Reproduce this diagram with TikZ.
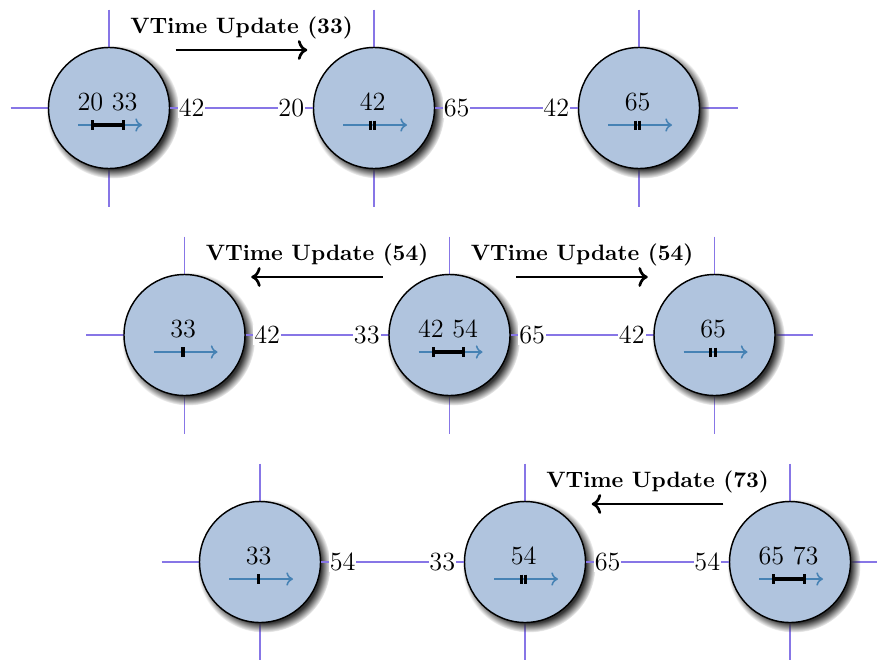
\documentclass[tikz,border=0pt]{standalone}
\usetikzlibrary{shadows,calc,arrows.meta}

\definecolor{nodefill}{RGB}{176,196,222}
\definecolor{gridline}{RGB}{135,118,230}
\definecolor{axisblue}{RGB}{70,130,180}

\tikzset{
  proc/.style={circle, draw=black, line width=0.65pt, fill=nodefill,
    minimum size=54.45pt, inner sep=0pt,
    circular drop shadow={fill=black!80, shadow xshift=1.6pt, shadow yshift=-1.6pt, shadow scale=1.1}},
  cross/.style={draw=gridline, line width=0.55pt},
  link/.style={draw=gridline, line width=0.55pt},
  vlabel/.style={fill=white, inner sep=0.4pt, font=\fontsize{11.8}{13}\selectfont},
  vnum/.style={inner sep=0pt, anchor=base, font=\fontsize{11.8}{13}\selectfont},
  axisline/.style={draw=axisblue, line width=0.7pt, -{To[length=3pt, width=6pt]}},
  spanbar/.style={draw=black, line width=1.5pt},
  tickbar/.style={draw=black, line width=1.45pt},
  msg/.style={draw=black, line width=1.2pt, ->},
  msglabel/.style={inner sep=0pt, anchor=base, font=\bfseries}
}

% time axis inside a process circle
\newcommand\timeaxis[1]{\draw[axisline] ($(#1)+(-31,17)$) -- ($(#1)+(33,17)$);}
% an interval [a,b] on the axis
\newcommand\spanmark[1]{%
  \draw[spanbar] ($(#1)+(-16.2,17)$) -- ($(#1)+(14.2,17)$);
  \draw[tickbar] ($(#1)+(-16.2,12)$) -- ($(#1)+(-16.2,22)$);
  \draw[tickbar] ($(#1)+(14.2,12)$) -- ($(#1)+(14.2,22)$);}
% a single instant, drawn as a double tick
\newcommand\pairmark[1]{%
  \draw[tickbar] ($(#1)+(-3.8,12.5)$) -- ($(#1)+(-3.8,21.5)$);
  \draw[tickbar] ($(#1)+(0.7,12.5)$) -- ($(#1)+(0.7,21.5)$);}
% a single instant, drawn as one tick
\newcommand\onemark[1]{%
  \draw[tickbar] ($(#1)+(-1.5,12)$) -- ($(#1)+(-1.5,22)$);}

\begin{document}
\begin{tikzpicture}[x=0.45pt, y=-0.45pt]
\useasboundingbox (0,0) rectangle (877,659);
\clip (0,0) rectangle (877,659);

% process centres
\coordinate (c11) at (109,108);
\coordinate (c12) at (374,108);
\coordinate (c13) at (639,108);
\coordinate (c21) at (184.5,335);
\coordinate (c22) at (449.5,335);
\coordinate (c23) at (714.5,335);
\coordinate (c31) at (260,562);
\coordinate (c32) at (525,562);
\coordinate (c33) at (790,562);

% crosshairs behind every process
\foreach \c in {c11,c12,c13,c21,c22,c23,c31,c32,c33}{
  \draw[cross] ($(\c)+(-98.5,0)$) -- ($(\c)+(98.5,0)$);
  \draw[cross] ($(\c)+(0,-98.5)$) -- ($(\c)+(0,98.5)$);
}

% processes
\foreach \c/\n in {c11/n11,c12/n12,c13/n13,c21/n21,c22/n22,c23/n23,c31/n31,c32/n32,c33/n33}{
  \node[proc] (\n) at (\c) {};
}

% clock values
\node[vnum] (t11) at ($(c11)+(-1.4,2)$) {20 33};
\node[vnum] (t12) at ($(c12)+(-1.4,2)$) {42};
\node[vnum] (t13) at ($(c13)+(-1.4,2)$) {65};
\node[vnum] (t21) at ($(c21)+(-1.4,2)$) {33};
\node[vnum] (t22) at ($(c22)+(-1.4,2)$) {42 54};
\node[vnum] (t23) at ($(c23)+(-1.4,2)$) {65};
\node[vnum] (t31) at ($(c31)+(-1.4,2)$) {33};
\node[vnum] (t32) at ($(c32)+(-1.4,2)$) {54};
\node[vnum] (t33) at ($(c33)+(-1.4,2)$) {65 73};

% time axes and marks
\foreach \c in {c11,c12,c13,c21,c22,c23,c31,c32,c33}{\timeaxis{\c}}
\spanmark{c11} \pairmark{c12} \pairmark{c13}
\onemark{c21}  \spanmark{c22} \pairmark{c23}
\onemark{c31}  \pairmark{c32} \spanmark{c33}

% links with neighbour clock values
\path[link] (n11) -- (n12)
  node[vlabel, pos=0, anchor=west, xshift=3.2pt] {42}
  node[vlabel, pos=1, anchor=east, xshift=-3.2pt] {20};
\path[link] (n12) -- (n13)
  node[vlabel, pos=0, anchor=west, xshift=3.2pt] {65}
  node[vlabel, pos=1, anchor=east, xshift=-3.2pt] {42};
\path[link] (n21) -- (n22)
  node[vlabel, pos=0, anchor=west, xshift=3.2pt] {42}
  node[vlabel, pos=1, anchor=east, xshift=-3.2pt] {33};
\path[link] (n22) -- (n23)
  node[vlabel, pos=0, anchor=west, xshift=3.2pt] {65}
  node[vlabel, pos=1, anchor=east, xshift=-3.2pt] {42};
\path[link] (n31) -- (n32)
  node[vlabel, pos=0, anchor=west, xshift=3.2pt] {54}
  node[vlabel, pos=1, anchor=east, xshift=-3.2pt] {33};
\path[link] (n32) -- (n33)
  node[vlabel, pos=0, anchor=west, xshift=3.2pt] {65}
  node[vlabel, pos=1, anchor=east, xshift=-3.2pt] {54};

% update messages
\coordinate (m1a) at ($(n11.east)+(5.5,-58)$);
\coordinate (m1b) at ($(n12.west)+(-5.5,-58)$);
\draw[msg] (m1a) -- (m1b);
\node[msglabel] (u1) at ($(m1a)!0.5!(m1b)+(0,-16.7)$) {VTime Update (33)};

\coordinate (m2a) at ($(n21.east)+(5.5,-58)$);
\coordinate (m2b) at ($(n22.west)+(-5.5,-58)$);
\draw[msg] (m2b) -- (m2a);
\node[msglabel] (u2) at ($(m2a)!0.5!(m2b)+(0,-16.7)$) {VTime Update (54)};

\coordinate (m3a) at ($(n22.east)+(5.5,-58)$);
\coordinate (m3b) at ($(n23.west)+(-5.5,-58)$);
\draw[msg] (m3a) -- (m3b);
\node[msglabel] (u3) at ($(m3a)!0.5!(m3b)+(0,-16.7)$) {VTime Update (54)};

\coordinate (m4a) at ($(n32.east)+(5.5,-58)$);
\coordinate (m4b) at ($(n33.west)+(-5.5,-58)$);
\draw[msg] (m4b) -- (m4a);
\node[msglabel] (u4) at ($(m4a)!0.5!(m4b)+(0,-16.7)$) {VTime Update (73)};
\end{tikzpicture}
\end{document}
